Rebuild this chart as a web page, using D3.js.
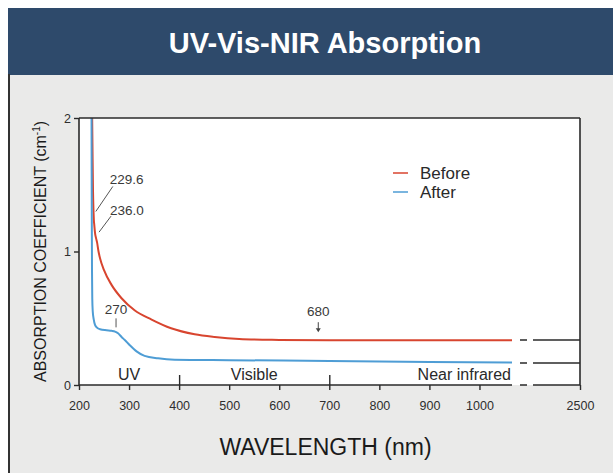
<!DOCTYPE html>
<html><head><meta charset="utf-8">
<script src="https://cdn.jsdelivr.net/npm/d3@7"></script>
<style>
html,body{margin:0;padding:0;background:#fff;}
svg{display:block;font-family:"Liberation Sans",Arial,Helvetica,sans-serif;}
</style></head><body>
<svg id="chart" width="613" height="473"></svg>
<script>
// ---------- data ----------
const titleText = "UV-Vis-NIR Absorption";
const xLabelText = "WAVELENGTH (nm)";
const yLabelMain = "ABSORPTION COEFFICIENT (cm";
const yLabelSup = "-1";
const seriesNames = ["Before", "After"];

const beforeWl  = [226, 227, 228, 229, 229.6, 230.5, 232, 234, 236, 239, 242, 250, 265, 285, 311, 345, 384, 431, 471, 520, 600, 700, 850, 1000, 1065];
const beforeVal = [2.1, 1.75, 1.45, 1.3, 1.24, 1.2, 1.14, 1.1, 1.07, 1.0, 0.95, 0.86, 0.75, 0.65, 0.56, 0.49, 0.425, 0.38, 0.36, 0.345, 0.338, 0.335, 0.335, 0.335, 0.335];

const afterWl  = [225, 225.3, 225.6, 226, 226.5, 227.5, 229.5, 232, 236, 242, 255, 265, 272, 278, 285, 292, 301, 315, 331, 358, 391, 500, 700, 900, 1065];
const afterVal = [2.1, 1.6, 1.2, 0.85, 0.65, 0.55, 0.49, 0.45, 0.43, 0.418, 0.41, 0.406, 0.4, 0.387, 0.36, 0.335, 0.3, 0.252, 0.218, 0.2, 0.19, 0.186, 0.18, 0.173, 0.168];

const nirWl = [1150, 2500];           // segment after the axis break
const nirBefore = [0.337, 0.337];
const nirAfter  = [0.165, 0.165];
const axisBreak = [1065, 1150];

const xTicks = [200, 300, 400, 500, 600, 700, 800, 900, 1000, 2500];
const xMajorTicks = [400, 700];
const yTicks = [0, 1, 2];

const regionNames = ["UV", "Visible", "Near infrared"];
const regionAt = [300, 550, 1063];

const annoLabels = ["229.6", "236.0", "270", "680"];
const annoWl = [229.6, 236, 270, 680];
const annoSeries = [0, 0, 1, 0];

// ---------- layout ----------
const W = 613, H = 473;
const L = 79, R = 580, T = 118, B = 385;
const red = "#d8452f", blue = "#4e9dd5", ink = "#2a2a2a";

const x = d3.scaleLinear().domain([200, axisBreak[0], axisBreak[1], 2500]).range([L, 512, 533, R]);
const y = d3.scaleLinear().domain([0, 2]).range([B, T]);

const svg = d3.select("#chart");
svg.append("rect").attr("width", W).attr("height", H).attr("fill", "#fff");
svg.append("rect").attr("x", 8).attr("y", 74).attr("width", W - 8).attr("height", H - 74).attr("fill", "#eaeae9");
svg.append("rect").attr("x", 8).attr("y", 8).attr("width", W - 8).attr("height", 67).attr("fill", "#2e4a6b");
svg.append("line").attr("x1", 9).attr("x2", 9).attr("y1", 74).attr("y2", H).attr("stroke", "#333").attr("stroke-width", 2);

svg.append("text").attr("x", 325).attr("y", 53).attr("text-anchor", "middle")
  .attr("fill", "#fff").attr("font-weight", "bold").attr("font-size", 29).text(titleText);

// plot background
svg.append("rect").attr("x", L).attr("y", T).attr("width", R - L).attr("height", B - T).attr("fill", "#fff");

svg.append("clipPath").attr("id", "clip").append("rect")
  .attr("x", L).attr("y", T).attr("width", R - L).attr("height", B - T);

const line = d3.line().x(d => x(d[0])).y(d => y(d[1])).curve(d3.curveMonotoneX);
const beforeData = beforeWl.map((w, i) => [w, beforeVal[i]]);
const afterData = afterWl.map((w, i) => [w, afterVal[i]]);

const g = svg.append("g").attr("clip-path", "url(#clip)");
g.append("path").datum(beforeData).attr("d", line).attr("fill", "none").attr("stroke", red).attr("stroke-width", 2);
g.append("path").datum(afterData).attr("d", line).attr("fill", "none").attr("stroke", blue).attr("stroke-width", 2);

// segments beyond break (dark)
[nirBefore, nirAfter].forEach(vals => {
  svg.append("line").attr("x1", x(nirWl[0])).attr("x2", x(nirWl[1]))
    .attr("y1", y(vals[0])).attr("y2", y(vals[1])).attr("stroke", ink).attr("stroke-width", 1.6);
  svg.append("line").attr("x1", x(axisBreak[0])).attr("x2", x(axisBreak[1]))
    .attr("y1", y(vals[0])).attr("y2", y(vals[0])).attr("stroke", ink).attr("stroke-width", 1.6)
    .attr("stroke-dasharray", "0,8,7,100");
});

// frame
svg.append("line").attr("x1", L).attr("x2", R).attr("y1", T).attr("y2", T).attr("stroke", ink).attr("stroke-width", 1.6);
svg.append("line").attr("x1", R).attr("x2", R).attr("y1", T).attr("y2", B).attr("stroke", ink).attr("stroke-width", 1.6);
svg.append("line").attr("x1", L).attr("x2", L).attr("y1", T).attr("y2", B).attr("stroke", ink).attr("stroke-width", 1.6);
// bottom axis line with break
svg.append("line").attr("x1", L).attr("x2", x(axisBreak[0])).attr("y1", B).attr("y2", B).attr("stroke", ink).attr("stroke-width", 1.6);
svg.append("line").attr("x1", x(axisBreak[0])).attr("x2", x(axisBreak[1])).attr("y1", B).attr("y2", B)
  .attr("stroke", ink).attr("stroke-width", 1.6).attr("stroke-dasharray", "0,8,7,100");
svg.append("line").attr("x1", x(axisBreak[1])).attr("x2", R).attr("y1", B).attr("y2", B).attr("stroke", ink).attr("stroke-width", 1.6);

// x axis
const xAxis = svg.append("g").attr("transform", `translate(0,${B})`)
  .call(d3.axisBottom(x).tickValues(xTicks).tickSize(5).tickPadding(11).tickFormat(d3.format("d")));
xAxis.select(".domain").remove();
xAxis.selectAll(".tick line").attr("stroke", ink).attr("stroke-width", 1.4)
  .attr("y1", d => xMajorTicks.includes(d) ? -10 : 0);
xAxis.selectAll(".tick text").attr("fill", "#2e2e2e").attr("font-size", 12.5)
  .attr("font-family", "'Liberation Sans',Arial,sans-serif");

// y axis
const yAxis = svg.append("g").attr("transform", `translate(${L},0)`)
  .call(d3.axisLeft(y).tickValues(yTicks).tickSize(5).tickPadding(3).tickFormat(d3.format("d")));
yAxis.select(".domain").remove();
yAxis.selectAll(".tick line").attr("stroke", ink).attr("stroke-width", 1.4);
yAxis.selectAll(".tick text").attr("fill", "#2e2e2e").attr("font-size", 12.5)
  .attr("font-family", "'Liberation Sans',Arial,sans-serif");

// region labels
regionNames.forEach((name, i) => {
  svg.append("text").attr("x", x(regionAt[i])).attr("y", B - 5)
    .attr("text-anchor", i === 2 ? "end" : "middle")
    .attr("font-size", 16).attr("fill", ink).text(name);
});

// axis titles
svg.append("text").attr("x", (L + R) / 2 - 4).attr("y", 455).attr("text-anchor", "middle")
  .attr("font-size", 23).attr("fill", "#1a1a1a").text(xLabelText);
const yl = svg.append("text").attr("transform", `translate(46,${(T + B) / 2}) rotate(-90)`)
  .attr("text-anchor", "middle").attr("font-size", 16).attr("fill", "#1a1a1a");
yl.append("tspan").text(yLabelMain);
yl.append("tspan").attr("dy", -6).attr("font-size", 10).text(yLabelSup);
yl.append("tspan").attr("dy", 6).text(")");

// legend
const legendColors = [red, blue];
seriesNames.forEach((name, i) => {
  const ly = 173 + i * 19;
  svg.append("line").attr("x1", 393).attr("x2", 408).attr("y1", ly).attr("y2", ly)
    .attr("stroke", legendColors[i]).attr("stroke-width", 1.5);
  svg.append("text").attr("x", 420).attr("y", ly + 6).attr("font-size", 17).attr("fill", ink).text(name);
});

// annotations
const seriesData = [beforeData, afterData];
function valueAt(data, w) {
  const ws = data.map(d => d[0]), vs = data.map(d => d[1]);
  return d3.scaleLinear().domain(ws).range(vs)(w);
}
// per-annotation layout offsets (pixels relative to the curve point)
const annoLayout = [
  {type: "leader", lx1: 19, ly1: -33, lx2: 2, ly2: -8, tx: 16, ty: -35, anchor: "start"},
  {type: "leader", lx1: 14, ly1: -26, lx2: 2, ly2: -10, tx: 13, ty: -27, anchor: "start"},
  {type: "tick", t1: -13, t2: -4, tx: 2, ty: -17, anchor: "middle"},
  {type: "arrow", t1: -18, t2: -8, tx: -1, ty: -24, anchor: "middle"}
];

annoLabels.forEach((lab, i) => {
  const px = x(annoWl[i]), py = y(valueAt(seriesData[annoSeries[i]], annoWl[i]));
  const o = annoLayout[i];
  if (o.type === "leader") {
    svg.append("line").attr("x1", px + o.lx1).attr("y1", py + o.ly1).attr("x2", px + o.lx2).attr("y2", py + o.ly2)
      .attr("stroke", "#555").attr("stroke-width", 1);
  } else if (o.type === "tick") {
    svg.append("line").attr("x1", px + 2).attr("x2", px + 2).attr("y1", py + o.t1).attr("y2", py + o.t2)
      .attr("stroke", "#555").attr("stroke-width", 1);
  } else {
    svg.append("line").attr("x1", px - 1).attr("x2", px - 1).attr("y1", py + o.t1).attr("y2", py + o.t2 - 3)
      .attr("stroke", "#444").attr("stroke-width", 1);
    svg.append("path").attr("d", `M${px - 3.5},${py + o.t2 - 4} L${px - 1},${py + o.t2} L${px + 1.5},${py + o.t2 - 4} Z`).attr("fill", "#444");
  }
  svg.append("text").attr("x", px + o.tx).attr("y", py + o.ty).attr("text-anchor", o.anchor)
    .attr("font-size", 13.5).attr("fill", "#3a3a3a").text(lab);
});
</script>
</body></html>
